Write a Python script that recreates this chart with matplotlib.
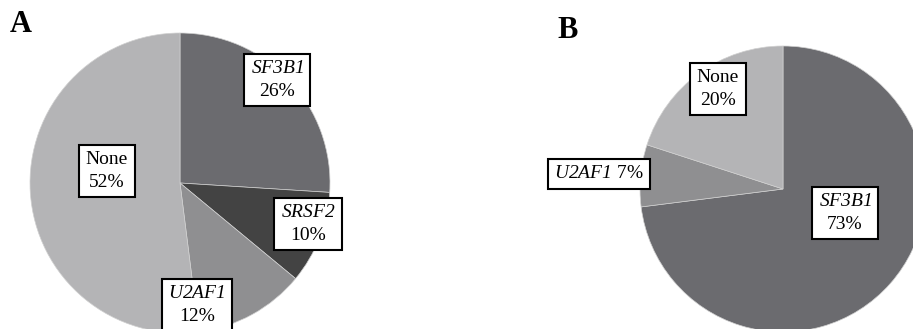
import matplotlib
matplotlib.use("Agg")
import matplotlib.pyplot as plt

plt.rcParams["font.family"] = "Liberation Serif"
plt.rcParams["mathtext.fontset"] = "custom"
plt.rcParams["mathtext.rm"] = "Liberation Serif"
# a slot whose glyphs (digits included) come from the italic face
plt.rcParams["mathtext.cal"] = "Liberation Serif:italic"

# Panel A: splicing-factor mutation frequencies
labels_a = ["SF3B1", "SRSF2", "U2AF1", "None"]
values_a = [26, 10, 12, 52]
# Panel B
labels_b = ["SF3B1", "U2AF1", "None"]
values_b = [73, 7, 20]

gene_colors = {"SF3B1": "#6b6b6f", "SRSF2": "#434343",
               "U2AF1": "#8f8f91", "None": "#b4b4b6"}

W, H = 913, 329
fig = plt.figure(figsize=(W / 100, H / 100), dpi=100)
ax = fig.add_axes([0, 0, 1, 1])


def label_text(name, val, one_line=False):
    head = name if name == "None" else r"$\mathcal{%s}$" % name
    sep = " " if one_line else "\n"
    return f"{head}{sep}{val}%"


def draw_pie(labels, values, center, radius, label_pos, one_line=()):
    ax.pie(values, colors=[gene_colors[n] for n in labels], startangle=90,
           counterclock=False, center=center, radius=radius,
           wedgeprops=dict(edgecolor="#d0d0d0", linewidth=0.5))
    for name, val in zip(labels, values):
        x, y = label_pos[name]
        ax.text(x, y, label_text(name, val, name in one_line),
                ha="center", va="center", fontsize=14, linespacing=1.4,
                bbox=dict(boxstyle="square,pad=0.34", facecolor="white",
                          edgecolor="black", linewidth=1.5))


# pies are drawn in pixel coordinates with y pointing up
draw_pie(labels_a, values_a, center=(180, H - 183), radius=150,
         label_pos={"SF3B1": (277, H - 80), "SRSF2": (308, H - 224),
                    "U2AF1": (197, H - 305), "None": (107, H - 171)})
draw_pie(labels_b, values_b, center=(783, H - 189), radius=143,
         label_pos={"SF3B1": (845, H - 213), "U2AF1": (599, H - 174),
                    "None": (718, H - 89)},
         one_line=("U2AF1",))

ax.text(10, H - 25, "A", fontsize=22, fontweight="bold", va="center", ha="left")
ax.text(557, H - 30, "B", fontsize=22, fontweight="bold", va="center", ha="left")

ax.set_xlim(0, W)
ax.set_ylim(0, H)
ax.set_aspect("equal")
ax.axis("off")

fig.savefig("out.png", dpi=100, facecolor="white")
